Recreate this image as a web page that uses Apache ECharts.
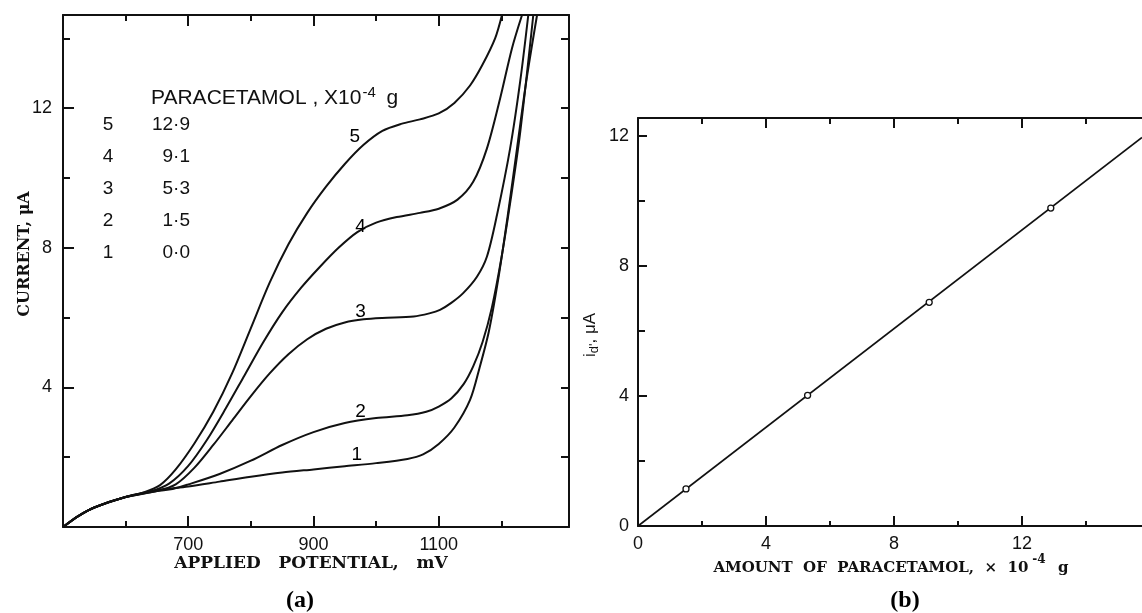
<!DOCTYPE html>
<html>
<head>
<meta charset="utf-8">
<script src="https://cdn.jsdelivr.net/npm/echarts@6/dist/echarts.min.js"></script>
<style>
html,body{margin:0;padding:0;background:#fff;}
#chart{width:1142px;height:613px;}
</style>
</head>
<body>
<div id="chart"></div>
<script>
// ---------- Panel (a): current vs applied potential ----------
const curve1X = [500,525,550,600,650,700,750,800,850,900,950,1000,1050,1075,1100,1125,1150,1165,1180,1195,1210,1225,1240,1257];
const curve1Y = [0,0.32,0.56,0.86,1.05,1.16,1.30,1.44,1.56,1.65,1.74,1.83,1.95,2.08,2.38,2.85,3.64,4.55,5.6,7.1,8.9,10.85,12.8,14.67];
const curve2X = [500,525,550,600,650,675,700,750,800,850,900,950,1000,1050,1080,1100,1120,1140,1155,1170,1185,1200,1215,1230,1251];
const curve2Y = [0,0.32,0.56,0.86,1.03,1.09,1.22,1.52,1.9,2.35,2.72,2.98,3.12,3.2,3.3,3.45,3.68,4.1,4.6,5.3,6.3,7.7,9.4,11.3,14.67];
const curve3X = [500,525,550,600,650,680,710,740,770,800,830,860,890,920,950,980,1010,1060,1085,1102,1120,1139,1161,1177,1193,1214,1230,1243];
const curve3Y = [0,0.32,0.56,0.86,1.03,1.22,1.7,2.35,3.05,3.75,4.4,4.95,5.38,5.68,5.86,5.95,5.99,6.03,6.12,6.22,6.42,6.7,7.17,7.75,8.94,10.85,12.76,14.67];
const curve4X = [500,525,550,600,640,670,700,730,760,790,820,850,880,910,940,970,1000,1033,1070,1100,1130,1155,1177,1198,1217,1233];
const curve4Y = [0,0.32,0.56,0.86,1.02,1.25,1.75,2.5,3.4,4.35,5.3,6.15,6.85,7.45,8.0,8.45,8.72,8.88,9.0,9.12,9.38,9.89,10.85,12.28,13.72,14.67];
const curve5X = [500,525,550,600,630,655,680,710,740,770,800,830,860,890,920,950,980,1010,1040,1070,1100,1125,1150,1170,1190,1201];
const curve5Y = [0,0.32,0.56,0.86,1.0,1.2,1.65,2.4,3.3,4.4,5.7,7.0,8.1,9.0,9.75,10.4,10.95,11.35,11.55,11.68,11.85,12.15,12.65,13.25,14.0,14.67];
const curveLabelX = [969,975,975,975,966];
const curveLabelY = [2.06,3.3,6.17,8.6,11.18];
const curveNames = ['1','2','3','4','5'];
const potentialMajorTicks = [700,900,1100];
const potentialMinorTicks = [600,800,1000,1200];
const currentMajorTicks = [4,8,12];
const currentMinorTicks = [2,6,10,14];
const currentAllTicks = [2,4,6,8,10,12,14];

// ---------- Legend table ----------
const legendCurve = ['5','4','3','2','1'];
const legendAmount = [12.9, 9.1, 5.3, 1.5, 0.0];

// ---------- Panel (b): diffusion current vs amount ----------
const amountX = [1.5, 5.3, 9.1, 12.9];
const idY = [1.14, 4.02, 6.88, 9.78];
const fitX = [0, 15.75];
const fitY = [0, 11.95];
const amountMajorTicks = [4,8,12];
const amountMinorTicks = [2,6,10,14];
const amountLabels = [0,4,8,12];
const idMajorTicks = [4,8,12];
const idMinorTicks = [2,6,10];
const idLabels = [0,4,8,12];

const pairs = (xs, ys) => xs.map((x, i) => [x, ys[i]]);
const INK = '#111';
const tickFont = {fontFamily: 'Liberation Sans', fontSize: 18, color: INK};

function axis(opts) {
  return {
    type: 'value',
    gridIndex: opts.grid,
    position: opts.pos,
    min: opts.min, max: opts.max,
    splitLine: {show: false},
    axisLine: {show: !!opts.line, onZero: false, lineStyle: {color: INK, width: 2}},
    axisTick: {show: true, inside: true, length: opts.len, customValues: opts.ticks,
               lineStyle: {color: INK, width: 2}},
    axisLabel: opts.labels ? Object.assign({show: true, customValues: opts.labels, margin: opts.margin || 10,
                                            formatter: v => String(v)}, tickFont)
                           : {show: false}
  };
}

const xAxes = [
  axis({grid:0,pos:'bottom',min:500,max:1308,line:true,len:11,ticks:potentialMajorTicks,labels:potentialMajorTicks,margin:9}),
  axis({grid:0,pos:'bottom',min:500,max:1308,line:false,len:6,ticks:potentialMinorTicks}),
  axis({grid:0,pos:'top',min:500,max:1308,line:true,len:11,ticks:potentialMajorTicks}),
  axis({grid:0,pos:'top',min:500,max:1308,line:false,len:6,ticks:potentialMinorTicks}),
  axis({grid:1,pos:'bottom',min:0,max:15.75,line:true,len:10,ticks:amountMajorTicks,labels:amountLabels,margin:9}),
  axis({grid:1,pos:'bottom',min:0,max:15.75,line:false,len:5,ticks:amountMinorTicks}),
  axis({grid:1,pos:'top',min:0,max:15.75,line:true,len:10,ticks:amountMajorTicks}),
  axis({grid:1,pos:'top',min:0,max:15.75,line:false,len:6,ticks:amountMinorTicks})
];
const yAxes = [
  axis({grid:0,pos:'left',min:0,max:14.67,line:true,len:11,ticks:currentMajorTicks,labels:currentMajorTicks,margin:11}),
  axis({grid:0,pos:'left',min:0,max:14.67,line:false,len:7,ticks:currentMinorTicks}),
  axis({grid:0,pos:'right',min:0,max:14.67,line:true,len:8,ticks:currentAllTicks}),
  axis({grid:1,pos:'left',min:0,max:12.55,line:true,len:9,ticks:idMajorTicks,labels:idLabels,margin:9}),
  axis({grid:1,pos:'left',min:0,max:12.55,line:false,len:7,ticks:idMinorTicks})
];

const curvesX = [curve1X, curve2X, curve3X, curve4X, curve5X];
const curvesY = [curve1Y, curve2Y, curve3Y, curve4Y, curve5Y];
const series = curvesX.map((xs, i) => ({
  type: 'line', xAxisIndex: 0, yAxisIndex: 0,
  data: pairs(xs, curvesY[i]),
  showSymbol: false, smooth: 0.3,
  lineStyle: {color: INK, width: 2}
}));
series.push({
  type: 'scatter', xAxisIndex: 0, yAxisIndex: 0,
  data: curveLabelX.map((x, i) => ({value: [x, curveLabelY[i]], name: curveNames[i]})),
  symbolSize: 1,
  itemStyle: {color: 'rgba(0,0,0,0)', opacity: 1},
  label: {show: true, position: 'inside', formatter: p => p.name, opacity: 1,
          fontFamily: 'Liberation Sans', fontSize: 19, color: '#000'},
  z: 6
});
series.push({
  type: 'line', xAxisIndex: 4, yAxisIndex: 3,
  data: pairs(fitX, fitY), showSymbol: false,
  lineStyle: {color: INK, width: 1.6}
});
series.push({
  type: 'scatter', xAxisIndex: 4, yAxisIndex: 3,
  data: pairs(amountX, idY), symbol: 'circle', symbolSize: 6,
  itemStyle: {color: '#fff', borderColor: INK, borderWidth: 1.3, opacity: 1}, z: 5
});

// legend block as real text
const graphic = [];
graphic.push({type:'text', left:151, top:85, style:{
  text:'{t|PARACETAMOL , X10}{s|-4}{t| g}',
  rich:{t:{fontFamily:'Liberation Sans',fontSize:21,fill:INK},
        s:{fontFamily:'Liberation Sans',fontSize:15,fill:INK,verticalAlign:'top',padding:[0,5,11,1]}}
}});
legendCurve.forEach((c, i) => {
  const y = 125 + i * 32;
  graphic.push({type:'text', x:108, y:y, style:{text:c, fontFamily:'Liberation Sans', fontSize:19, fill:INK, align:'center', verticalAlign:'middle'}});
  graphic.push({type:'text', x:190, y:y, style:{text:legendAmount[i].toFixed(1).replace('.', '·'), fontFamily:'Liberation Sans', fontSize:19, fill:INK, align:'right', verticalAlign:'middle'}});
});
// axis titles
graphic.push({type:'text', x:25, y:254, rotation:Math.PI/2, style:{text:'CURRENT, μA', fontFamily:'DejaVu Serif', fontWeight:'bold', fontSize:16, fill:INK, align:'center', verticalAlign:'middle'}});
graphic.push({type:'text', x:311, y:564, style:{text:'APPLIED   POTENTIAL,   mV', fontFamily:'DejaVu Serif', fontWeight:'bold', fontSize:17, fill:INK, align:'center', verticalAlign:'middle'}});
graphic.push({type:'text', x:590, y:335, rotation:Math.PI/2, style:{
  text:'{t|i}{s|d\'}{t|, μA}', align:'center', verticalAlign:'middle',
  rich:{t:{fontFamily:'Liberation Sans',fontSize:17,fill:INK}, s:{fontFamily:'Liberation Sans',fontSize:13,fill:INK,padding:[8,0,0,0]}}
}});
graphic.push({type:'text', x:891, y:568, style:{
  text:'{t|AMOUNT  OF  PARACETAMOL,  ×  10}{s|-4}{t|  g}', align:'center', verticalAlign:'middle',
  rich:{t:{fontFamily:'DejaVu Serif',fontWeight:'bold',fontSize:15,fill:INK},
        s:{fontFamily:'DejaVu Serif',fontWeight:'bold',fontSize:12,fill:INK,padding:[0,2,16,4]}}
}});
graphic.push({type:'text', x:300, y:601, style:{text:'(a)', fontFamily:'Liberation Serif', fontWeight:'bold', fontSize:24, fill:'#000', align:'center', verticalAlign:'middle'}});
graphic.push({type:'text', x:905, y:601, style:{text:'(b)', fontFamily:'Liberation Serif', fontWeight:'bold', fontSize:24, fill:'#000', align:'center', verticalAlign:'middle'}});

const chart = echarts.init(document.getElementById('chart'), null, {renderer:'canvas'});
chart.setOption({
  animation: false,
  backgroundColor: '#fff',
  grid: [
    {left:63, top:15, width:506, height:512},
    {left:638, top:118, width:504, height:408}
  ],
  xAxis: xAxes,
  yAxis: yAxes,
  series: series,
  graphic: graphic
});
</script>
</body>
</html>
